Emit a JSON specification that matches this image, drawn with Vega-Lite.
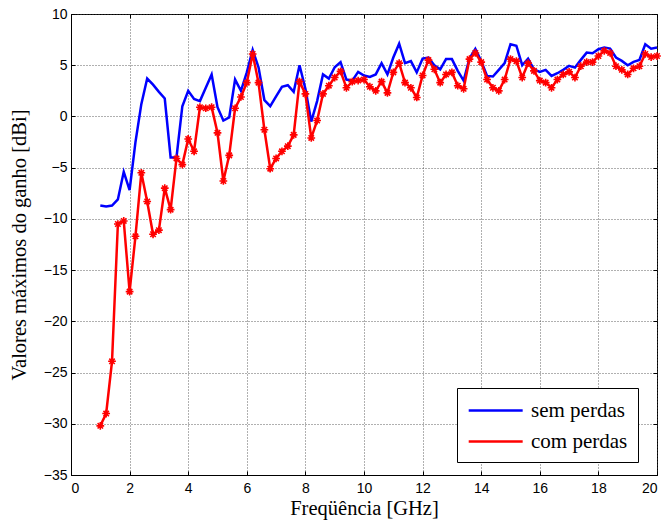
{
  "$schema": "https://vega.github.io/schema/vega-lite/v6.json",
  "width": 586,
  "height": 461,
  "autosize": {"type": "none"},
  "padding": {"left": 71, "top": 14, "right": 9, "bottom": 56},
  "background": "white",
  "config": {
    "view": {"stroke": "black", "strokeWidth": 1},
    "axis": {
      "labelFont": "Liberation Sans, Arial, sans-serif",
      "labelFontSize": 14,
      "labelColor": "black",
      "titleFont": "Liberation Serif, Times New Roman, serif",
      "titleFontSize": 20.5,
      "titleFontWeight": "normal",
      "titleColor": "black",
      "domainColor": "black",
      "tickColor": "black",
      "gridColor": "#444444",
      "gridDash": [1, 2],
      "gridWidth": 1,
      "gridOpacity": 0.85
    },
    "legend": {
      "labelFont": "Liberation Serif, Times New Roman, serif",
      "labelFontSize": 21,
      "labelColor": "black"
    }
  },
  "datasets": {
    "d": [
      {"f": 1.0, "g": -8.7, "s": "sem perdas"},
      {"f": 1.2, "g": -8.8, "s": "sem perdas"},
      {"f": 1.4, "g": -8.7, "s": "sem perdas"},
      {"f": 1.6, "g": -8.1, "s": "sem perdas"},
      {"f": 1.8, "g": -5.4, "s": "sem perdas"},
      {"f": 2.0, "g": -7.2, "s": "sem perdas"},
      {"f": 2.2, "g": -2.5, "s": "sem perdas"},
      {"f": 2.4, "g": 1.2, "s": "sem perdas"},
      {"f": 2.6, "g": 3.7, "s": "sem perdas"},
      {"f": 2.8, "g": 3.1, "s": "sem perdas"},
      {"f": 3.0, "g": 2.4, "s": "sem perdas"},
      {"f": 3.2, "g": 1.75, "s": "sem perdas"},
      {"f": 3.4, "g": -4.0, "s": "sem perdas"},
      {"f": 3.6, "g": -4.0, "s": "sem perdas"},
      {"f": 3.8, "g": 1.0, "s": "sem perdas"},
      {"f": 4.0, "g": 2.5, "s": "sem perdas"},
      {"f": 4.2, "g": 1.7, "s": "sem perdas"},
      {"f": 4.4, "g": 1.5, "s": "sem perdas"},
      {"f": 4.6, "g": 2.8, "s": "sem perdas"},
      {"f": 4.8, "g": 4.1, "s": "sem perdas"},
      {"f": 5.0, "g": 0.9, "s": "sem perdas"},
      {"f": 5.2, "g": -0.4, "s": "sem perdas"},
      {"f": 5.4, "g": -0.1, "s": "sem perdas"},
      {"f": 5.6, "g": 3.6, "s": "sem perdas"},
      {"f": 5.8, "g": 2.5, "s": "sem perdas"},
      {"f": 6.0, "g": 4.3, "s": "sem perdas"},
      {"f": 6.2, "g": 6.5, "s": "sem perdas"},
      {"f": 6.4, "g": 4.8, "s": "sem perdas"},
      {"f": 6.6, "g": 1.6, "s": "sem perdas"},
      {"f": 6.8, "g": 1.0, "s": "sem perdas"},
      {"f": 7.0, "g": 1.95, "s": "sem perdas"},
      {"f": 7.2, "g": 2.9, "s": "sem perdas"},
      {"f": 7.4, "g": 3.05, "s": "sem perdas"},
      {"f": 7.6, "g": 2.4, "s": "sem perdas"},
      {"f": 7.8, "g": 5.0, "s": "sem perdas"},
      {"f": 8.0, "g": 2.7, "s": "sem perdas"},
      {"f": 8.2, "g": -0.5, "s": "sem perdas"},
      {"f": 8.4, "g": 1.5, "s": "sem perdas"},
      {"f": 8.6, "g": 4.1, "s": "sem perdas"},
      {"f": 8.8, "g": 3.7, "s": "sem perdas"},
      {"f": 9.0, "g": 4.8, "s": "sem perdas"},
      {"f": 9.2, "g": 5.3, "s": "sem perdas"},
      {"f": 9.4, "g": 3.6, "s": "sem perdas"},
      {"f": 9.6, "g": 3.5, "s": "sem perdas"},
      {"f": 9.8, "g": 4.35, "s": "sem perdas"},
      {"f": 10.0, "g": 4.0, "s": "sem perdas"},
      {"f": 10.2, "g": 3.86, "s": "sem perdas"},
      {"f": 10.4, "g": 4.1, "s": "sem perdas"},
      {"f": 10.6, "g": 5.2, "s": "sem perdas"},
      {"f": 10.8, "g": 4.1, "s": "sem perdas"},
      {"f": 11.0, "g": 5.75, "s": "sem perdas"},
      {"f": 11.2, "g": 7.1, "s": "sem perdas"},
      {"f": 11.4, "g": 5.2, "s": "sem perdas"},
      {"f": 11.6, "g": 5.4, "s": "sem perdas"},
      {"f": 11.8, "g": 4.3, "s": "sem perdas"},
      {"f": 12.0, "g": 5.65, "s": "sem perdas"},
      {"f": 12.2, "g": 5.75, "s": "sem perdas"},
      {"f": 12.4, "g": 5.0, "s": "sem perdas"},
      {"f": 12.6, "g": 4.6, "s": "sem perdas"},
      {"f": 12.8, "g": 5.6, "s": "sem perdas"},
      {"f": 13.0, "g": 5.6, "s": "sem perdas"},
      {"f": 13.2, "g": 4.45, "s": "sem perdas"},
      {"f": 13.4, "g": 3.5, "s": "sem perdas"},
      {"f": 13.6, "g": 5.65, "s": "sem perdas"},
      {"f": 13.8, "g": 6.6, "s": "sem perdas"},
      {"f": 14.0, "g": 5.4, "s": "sem perdas"},
      {"f": 14.2, "g": 3.96, "s": "sem perdas"},
      {"f": 14.4, "g": 3.9, "s": "sem perdas"},
      {"f": 14.6, "g": 4.55, "s": "sem perdas"},
      {"f": 14.8, "g": 5.2, "s": "sem perdas"},
      {"f": 15.0, "g": 7.05, "s": "sem perdas"},
      {"f": 15.2, "g": 6.9, "s": "sem perdas"},
      {"f": 15.4, "g": 5.0, "s": "sem perdas"},
      {"f": 15.6, "g": 5.65, "s": "sem perdas"},
      {"f": 15.8, "g": 4.6, "s": "sem perdas"},
      {"f": 16.0, "g": 4.35, "s": "sem perdas"},
      {"f": 16.2, "g": 4.55, "s": "sem perdas"},
      {"f": 16.4, "g": 3.96, "s": "sem perdas"},
      {"f": 16.6, "g": 4.22, "s": "sem perdas"},
      {"f": 16.8, "g": 4.55, "s": "sem perdas"},
      {"f": 17.0, "g": 4.94, "s": "sem perdas"},
      {"f": 17.2, "g": 4.77, "s": "sem perdas"},
      {"f": 17.4, "g": 5.52, "s": "sem perdas"},
      {"f": 17.6, "g": 6.23, "s": "sem perdas"},
      {"f": 17.8, "g": 6.17, "s": "sem perdas"},
      {"f": 18.0, "g": 6.56, "s": "sem perdas"},
      {"f": 18.2, "g": 6.72, "s": "sem perdas"},
      {"f": 18.4, "g": 6.62, "s": "sem perdas"},
      {"f": 18.6, "g": 5.75, "s": "sem perdas"},
      {"f": 18.8, "g": 5.42, "s": "sem perdas"},
      {"f": 19.0, "g": 5.0, "s": "sem perdas"},
      {"f": 19.2, "g": 5.32, "s": "sem perdas"},
      {"f": 19.4, "g": 5.52, "s": "sem perdas"},
      {"f": 19.6, "g": 7.05, "s": "sem perdas"},
      {"f": 19.8, "g": 6.62, "s": "sem perdas"},
      {"f": 20.0, "g": 6.72, "s": "sem perdas"},
      {"f": 1.0, "g": -30.2, "s": "com perdas"},
      {"f": 1.2, "g": -29.0, "s": "com perdas"},
      {"f": 1.4, "g": -23.9, "s": "com perdas"},
      {"f": 1.6, "g": -10.5, "s": "com perdas"},
      {"f": 1.8, "g": -10.2, "s": "com perdas"},
      {"f": 2.0, "g": -17.1, "s": "com perdas"},
      {"f": 2.2, "g": -11.7, "s": "com perdas"},
      {"f": 2.4, "g": -5.5, "s": "com perdas"},
      {"f": 2.6, "g": -8.3, "s": "com perdas"},
      {"f": 2.8, "g": -11.5, "s": "com perdas"},
      {"f": 3.0, "g": -11.1, "s": "com perdas"},
      {"f": 3.2, "g": -7.0, "s": "com perdas"},
      {"f": 3.4, "g": -9.1, "s": "com perdas"},
      {"f": 3.6, "g": -4.1, "s": "com perdas"},
      {"f": 3.8, "g": -4.7, "s": "com perdas"},
      {"f": 4.0, "g": -2.2, "s": "com perdas"},
      {"f": 4.2, "g": -3.4, "s": "com perdas"},
      {"f": 4.4, "g": 0.9, "s": "com perdas"},
      {"f": 4.6, "g": 0.8, "s": "com perdas"},
      {"f": 4.8, "g": 0.9, "s": "com perdas"},
      {"f": 5.0, "g": -1.6, "s": "com perdas"},
      {"f": 5.2, "g": -6.3, "s": "com perdas"},
      {"f": 5.4, "g": -3.8, "s": "com perdas"},
      {"f": 5.6, "g": 0.8, "s": "com perdas"},
      {"f": 5.8, "g": 1.9, "s": "com perdas"},
      {"f": 6.0, "g": 3.3, "s": "com perdas"},
      {"f": 6.2, "g": 6.1, "s": "com perdas"},
      {"f": 6.4, "g": 3.3, "s": "com perdas"},
      {"f": 6.6, "g": -1.3, "s": "com perdas"},
      {"f": 6.8, "g": -5.1, "s": "com perdas"},
      {"f": 7.0, "g": -4.1, "s": "com perdas"},
      {"f": 7.2, "g": -3.4, "s": "com perdas"},
      {"f": 7.4, "g": -2.9, "s": "com perdas"},
      {"f": 7.6, "g": -1.8, "s": "com perdas"},
      {"f": 7.8, "g": 3.4, "s": "com perdas"},
      {"f": 8.0, "g": 2.2, "s": "com perdas"},
      {"f": 8.2, "g": -2.1, "s": "com perdas"},
      {"f": 8.4, "g": -0.4, "s": "com perdas"},
      {"f": 8.6, "g": 2.2, "s": "com perdas"},
      {"f": 8.8, "g": 3.0, "s": "com perdas"},
      {"f": 9.0, "g": 3.8, "s": "com perdas"},
      {"f": 9.2, "g": 4.4, "s": "com perdas"},
      {"f": 9.4, "g": 2.8, "s": "com perdas"},
      {"f": 9.6, "g": 3.4, "s": "com perdas"},
      {"f": 9.8, "g": 3.5, "s": "com perdas"},
      {"f": 10.0, "g": 3.6, "s": "com perdas"},
      {"f": 10.2, "g": 2.9, "s": "com perdas"},
      {"f": 10.4, "g": 2.5, "s": "com perdas"},
      {"f": 10.6, "g": 3.4, "s": "com perdas"},
      {"f": 10.8, "g": 2.3, "s": "com perdas"},
      {"f": 11.0, "g": 4.3, "s": "com perdas"},
      {"f": 11.2, "g": 5.2, "s": "com perdas"},
      {"f": 11.4, "g": 3.3, "s": "com perdas"},
      {"f": 11.6, "g": 2.8, "s": "com perdas"},
      {"f": 11.8, "g": 1.85, "s": "com perdas"},
      {"f": 12.0, "g": 4.0, "s": "com perdas"},
      {"f": 12.2, "g": 5.5, "s": "com perdas"},
      {"f": 12.4, "g": 4.6, "s": "com perdas"},
      {"f": 12.6, "g": 3.3, "s": "com perdas"},
      {"f": 12.8, "g": 4.1, "s": "com perdas"},
      {"f": 13.0, "g": 4.3, "s": "com perdas"},
      {"f": 13.2, "g": 3.0, "s": "com perdas"},
      {"f": 13.4, "g": 2.7, "s": "com perdas"},
      {"f": 13.6, "g": 5.6, "s": "com perdas"},
      {"f": 13.8, "g": 6.2, "s": "com perdas"},
      {"f": 14.0, "g": 5.3, "s": "com perdas"},
      {"f": 14.2, "g": 3.6, "s": "com perdas"},
      {"f": 14.4, "g": 2.8, "s": "com perdas"},
      {"f": 14.6, "g": 2.5, "s": "com perdas"},
      {"f": 14.8, "g": 3.6, "s": "com perdas"},
      {"f": 15.0, "g": 5.6, "s": "com perdas"},
      {"f": 15.2, "g": 5.4, "s": "com perdas"},
      {"f": 15.4, "g": 3.8, "s": "com perdas"},
      {"f": 15.6, "g": 5.2, "s": "com perdas"},
      {"f": 15.8, "g": 4.45, "s": "com perdas"},
      {"f": 16.0, "g": 3.5, "s": "com perdas"},
      {"f": 16.2, "g": 3.3, "s": "com perdas"},
      {"f": 16.4, "g": 2.8, "s": "com perdas"},
      {"f": 16.6, "g": 3.6, "s": "com perdas"},
      {"f": 16.8, "g": 4.1, "s": "com perdas"},
      {"f": 17.0, "g": 4.35, "s": "com perdas"},
      {"f": 17.2, "g": 3.8, "s": "com perdas"},
      {"f": 17.4, "g": 4.9, "s": "com perdas"},
      {"f": 17.6, "g": 5.3, "s": "com perdas"},
      {"f": 17.8, "g": 5.3, "s": "com perdas"},
      {"f": 18.0, "g": 5.9, "s": "com perdas"},
      {"f": 18.2, "g": 6.4, "s": "com perdas"},
      {"f": 18.4, "g": 6.2, "s": "com perdas"},
      {"f": 18.6, "g": 4.9, "s": "com perdas"},
      {"f": 18.8, "g": 4.55, "s": "com perdas"},
      {"f": 19.0, "g": 4.1, "s": "com perdas"},
      {"f": 19.2, "g": 4.7, "s": "com perdas"},
      {"f": 19.4, "g": 4.9, "s": "com perdas"},
      {"f": 19.6, "g": 6.1, "s": "com perdas"},
      {"f": 19.8, "g": 5.8, "s": "com perdas"},
      {"f": 20.0, "g": 5.9, "s": "com perdas"}
    ]
  },
  "data": {"name": "d"},
  "layer": [
    {
      "mark": {"type": "line", "strokeWidth": 2.5},
      "encoding": {
        "x": {
          "field": "f", "type": "quantitative",
          "scale": {"domain": [0, 20], "nice": false},
          "axis": {"title": "Freqüência [GHz]", "values": [0, 2, 4, 6, 8, 10, 12, 14, 16, 18, 20], "grid": true, "tickSize": -4, "labelPadding": 10, "titlePadding": 3}
        },
        "y": {
          "field": "g", "type": "quantitative",
          "scale": {"domain": [-35, 10], "nice": false},
          "axis": {"title": "Valores máximos do ganho [dBi]", "values": [-35, -30, -25, -20, -15, -10, -5, 0, 5, 10], "grid": true, "tickSize": -4, "labelPadding": 8, "titlePadding": 14}
        },
        "color": {
          "field": "s", "type": "nominal",
          "scale": {"domain": ["sem perdas", "com perdas"], "range": ["#0000ff", "#ff0000"]},
          "legend": {
            "title": null,
            "orient": "none",
            "legendX": 386,
            "legendY": 374,
            "direction": "vertical",
            "strokeColor": "black",
            "fillColor": "white",
            "padding": 10,
            "symbolType": "M-1,0L4,0",
            "symbolSize": 466,
            "symbolStrokeWidth": 2.5,
            "symbolFillColor": "transparent",
            "labelFont": "Liberation Serif, Times New Roman, serif",
            "labelFontSize": 21,
            "labelColor": "black",
            "labelOffset": 39,
            "rowPadding": 8,
            "labelLimit": 300
          }
        }
      }
    },
    {
      "transform": [{"filter": "datum.s == 'com perdas'"}],
      "mark": {"type": "point", "shape": "M-1,0L1,0M0,-1L0,1M-0.7,-0.7L0.7,0.7M-0.7,0.7L0.7,-0.7", "size": 60, "filled": false, "strokeWidth": 1.6, "color": "#ff0000", "opacity": 1},
      "encoding": {
        "x": {"field": "f", "type": "quantitative", "axis": {"orient": "top", "values": [0, 2, 4, 6, 8, 10, 12, 14, 16, 18, 20], "labels": false, "title": null, "grid": false, "tickSize": -4, "domain": false}},
        "y": {"field": "g", "type": "quantitative", "axis": {"orient": "right", "values": [-35, -30, -25, -20, -15, -10, -5, 0, 5, 10], "labels": false, "title": null, "grid": false, "tickSize": -4, "domain": false}}
      }
    }
  ],
  "resolve": {"axis": {"x": "independent", "y": "independent"}}
}
